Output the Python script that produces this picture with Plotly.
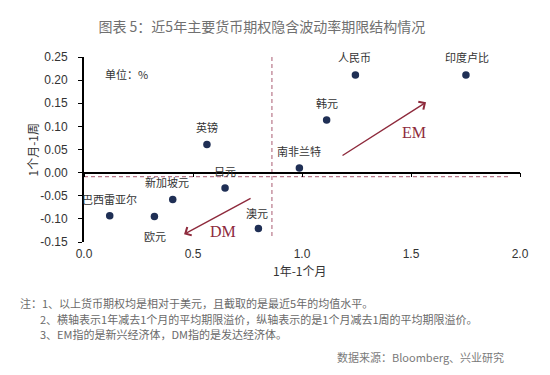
import plotly.graph_objects as go

# ---- data ----
currencies = ["英镑", "日元", "新加坡元", "巴西雷亚尔", "欧元", "澳元", "南非兰特", "韩元", "人民币", "印度卢比"]
x_1y_minus_1m = [0.564, 0.647, 0.407, 0.118, 0.323, 0.800, 0.988, 1.113, 1.245, 1.752]
y_1m_minus_1w = [0.061, -0.033, -0.058, -0.093, -0.095, -0.121, 0.010, 0.114, 0.211, 0.211]

x_ticks = [0.0, 0.5, 1.0, 1.5, 2.0]
x_ticktext = ["0.0", "0.5", "1.0", "1.5", "2.0"]
y_ticks = [-0.15, -0.10, -0.05, 0.00, 0.05, 0.10, 0.15, 0.20, 0.25]
y_ticktext = ["-0.15", "-0.10", "-0.05", "0.00", "0.05", "0.10", "0.15", "0.20", "0.25"]

# reference (dashed) lines
vline_x = [0.862, 0.862]
vline_y = [0.25, -0.141]
hline_x = [0.0, 1.954]
hline_y = [-0.0085, -0.0085]

# arrows: tail -> head
em_tail = (1.179, 0.035)
em_head = (1.569, 0.152)
dm_tail = (0.771, -0.054)
dm_head = (0.459, -0.133)
em_text_pos = (1.514, 0.087)
dm_text_pos = (0.638, -0.128)

title_text = "图表 5：近5年主要货币期权隐含波动率期限结构情况"
notes = [
    "注：1、以上货币期权均是相对于美元，且截取的是最近5年的均值水平。",
    "2、横轴表示1年减去1个月的平均期限溢价，纵轴表示的是1个月减去1周的平均期限溢价。",
    "3、EM指的是新兴经济体，DM指的是发达经济体。",
]
source_text = "数据来源：Bloomberg、兴业研究"

# ---- style ----
label_shift = [17, 17, 17, 17, -19, 16, 17, 17, 18, 18]
label_xshift = [0, 0, -6, 0, 1, -1, 0, 0, -1, 1]
CJK = "Noto Sans CJK SC"
dot_color = "#1f2f55"
dash_color = "#b8788a"
arrow_color = "#8e2a3c"

fig = go.Figure()

fig.add_trace(go.Scatter(x=vline_x, y=vline_y, mode="lines",
                         line=dict(color=dash_color, width=1.2, dash="4px,3px"),
                         hoverinfo="skip", showlegend=False))
fig.add_trace(go.Scatter(x=hline_x, y=hline_y, mode="lines",
                         line=dict(color=dash_color, width=1.2, dash="4px,3px"),
                         hoverinfo="skip", showlegend=False))
fig.add_trace(go.Scatter(x=x_1y_minus_1m, y=y_1m_minus_1w, mode="markers",
                         marker=dict(color=dot_color, size=7.5),
                         showlegend=False))
# dummy trace on the zero-line axis
fig.add_trace(go.Scatter(x=[None], y=[None], xaxis="x2", mode="markers",
                         showlegend=False, hoverinfo="skip"))

annotations = []
for name, xv, yv, ys, xs in zip(currencies, x_1y_minus_1m, y_1m_minus_1w, label_shift, label_xshift):
    annotations.append(dict(x=xv, y=yv, xref="x", yref="y", text=name, showarrow=False,
                            yshift=ys, xshift=xs,
                            font=dict(family=CJK, size=11, color="#333333")))

for tail, head in [(em_tail, em_head), (dm_tail, dm_head)]:
    annotations.append(dict(x=head[0], y=head[1], ax=tail[0], ay=tail[1],
                            xref="x", yref="y", axref="x", ayref="y", text="",
                            showarrow=True, arrowhead=4, arrowsize=1.3, arrowwidth=1.4,
                            arrowcolor=arrow_color, standoff=0, startstandoff=0))
annotations.append(dict(x=em_text_pos[0], y=em_text_pos[1], xref="x", yref="y", text="EM",
                        showarrow=False, font=dict(family="Liberation Serif", size=16, color=arrow_color)))
annotations.append(dict(x=dm_text_pos[0], y=dm_text_pos[1], xref="x", yref="y", text="DM",
                        showarrow=False, font=dict(family="Liberation Serif", size=16, color=arrow_color)))

annotations.append(dict(x=0.044, y=0.908, xref="paper", yref="paper", text="单位：%",
                        xanchor="left", yanchor="middle", showarrow=False,
                        font=dict(family=CJK, size=11, color="#333333")))
# axis titles
annotations.append(dict(x=-0.117, y=0.50, xref="paper", yref="paper", text="1个月-1周",
                        textangle=-90, xanchor="center", yanchor="middle", showarrow=False,
                        font=dict(family=CJK, size=12, color="#333333")))
annotations.append(dict(x=0.430, y=-0.153, xref="paper", yref="paper", text="1年-1个月",
                        xanchor="left", yanchor="middle", showarrow=False,
                        font=dict(family=CJK, size=12, color="#333333")))
# notes
note_pos = [(-0.151, -0.33), (-0.106, -0.416), (-0.106, -0.498)]
for t, (nx, ny) in zip(notes, note_pos):
    annotations.append(dict(x=nx, y=ny, xref="paper", yref="paper", text=t,
                            xanchor="left", yanchor="middle", showarrow=False,
                            font=dict(family=CJK, size=11, color="#6a6a6a")))
annotations.append(dict(x=0.968, y=-0.62, xref="paper", yref="paper", text=source_text,
                        xanchor="right", yanchor="middle", showarrow=False,
                        font=dict(family=CJK, size=11, color="#7a7a7a")))

fig.update_layout(
    width=550, height=375,
    margin=dict(l=84, r=30, t=57, b=133),
    paper_bgcolor="white", plot_bgcolor="white",
    title=dict(text=title_text, x=0.476, xanchor="center", y=1 - 27 / 375, yanchor="middle",
               yref="container", font=dict(family=CJK, size=14, color="#707070")),
    xaxis=dict(range=[0, 2], tickvals=x_ticks, ticktext=x_ticktext, showline=False,
               showgrid=False, zeroline=False, ticks="", ticklabelstandoff=3,
               tickfont=dict(family="Liberation Sans", size=12, color="#333333")),
    xaxis2=dict(range=[0, 2], overlaying="x", anchor="free", position=0.375, side="bottom",
                tickvals=x_ticks, showticklabels=False, showline=True, linecolor="black",
                linewidth=1.5, ticks="outside", ticklen=4, tickcolor="black", tickwidth=1.2,
                showgrid=False, zeroline=False),
    yaxis=dict(range=[-0.15, 0.25], tickvals=y_ticks, ticktext=y_ticktext, showline=True,
               linecolor="black", linewidth=1.8, ticks="outside", ticklen=4, tickcolor="black",
               tickwidth=1.2, showgrid=False, zeroline=False, ticklabelstandoff=8,
               tickfont=dict(family="Liberation Sans", size=12, color="#333333")),
    annotations=annotations,
)

fig.write_html("out.html")
